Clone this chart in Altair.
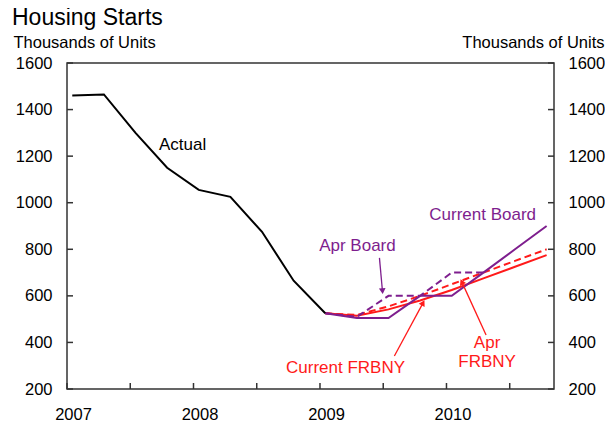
import altair as alt
import pandas as pd

# ---------------- data ----------------
actual_quarters = ["2007Q1", "2007Q2", "2007Q3", "2007Q4", "2008Q1",
                   "2008Q2", "2008Q3", "2008Q4", "2009Q1"]
actual_values = [1460, 1465, 1300, 1150, 1055, 1025, 875, 665, 525]

forecast_quarters = ["2009Q1", "2009Q2", "2009Q3", "2009Q4",
                     "2010Q1", "2010Q2", "2010Q3", "2010Q4"]
current_board = [525, 505, 505, 600, 600, 700, 800, 900]
apr_board = [525, 510, 600, 600, 700, 700]
current_frbny = [525, 515, 542, 580, 625, 675, 725, 775]
apr_frbny = [525, 518, 555, 600, 650, 700, 750, 800]

y_ticks = [200, 400, 600, 800, 1000, 1200, 1400, 1600]
x_ticks = [2007, 2007.5, 2008, 2008.5, 2009, 2009.5, 2010, 2010.5]

PURPLE = "#7E1E8E"
RED = "#FF1A1A"
BLACK = "#000000"
AXC = "#333333"

label_text = ["Actual", "Apr Board", "Current Board", "Current FRBNY", "Apr", "FRBNY"]
label_x = [2007.914, 2009.296, 2010.286, 2009.202, 2010.321, 2010.321]
label_y = [1248, 815, 947, 290, 398, 314]
label_color = [BLACK, PURPLE, PURPLE, RED, RED, RED]

arrow_x1 = [2009.47, 2009.588, 2010.313]
arrow_y1 = [763, 342, 432]
arrow_x2 = [2009.494, 2009.815, 2010.121]
arrow_y2 = [620, 570, 660]
arrow_angle = [175, 29, 335]
arrow_color = [PURPLE, RED, RED]

W, H = 487, 326
TICK = 6


def qpos(q):
    # quarterly values plotted at the middle of the quarter's first month
    year, qq = int(q[:4]), int(q[-1])
    return year + (qq - 1) / 4 + 1 / 24


series = [
    ("Current FRBNY", forecast_quarters, current_frbny, RED, []),
    ("Apr FRBNY", forecast_quarters, apr_frbny, RED, [7, 4]),
    ("Apr Board", forecast_quarters[:len(apr_board)], apr_board, PURPLE, [7, 4]),
    ("Current Board", forecast_quarters, current_board, PURPLE, []),
    ("Actual", actual_quarters, actual_values, BLACK, []),
]

FONT = "Liberation Sans"
x_scale = alt.Scale(domain=[2007, 2010.85], nice=False, zero=False)
x_enc = alt.X(
    "x:Q", scale=x_scale,
    axis=alt.Axis(
        values=x_ticks,
        labelExpr="datum.value % 1 === 0 ? '' + datum.value : ''",
        labelFlush=False, labelOverlap=False, labelOffset=6,
        labelPadding=17, labelFontSize=16.5, labelColor=BLACK, labelFont=FONT,
        ticks=False, domain=False, grid=False, title=None,
    ),
)
y_scale = alt.Scale(domain=[200, 1600], nice=False, zero=False)


def yaxis(orient):
    left = orient == "left"
    return alt.Axis(
        orient=orient, values=y_ticks, format="d", ticks=False,
        domain=False, grid=False,
        labelPadding=15 if left else 14, labelFontSize=16.5, labelColor=BLACK,
        labelFont=FONT,
        title="Thousands of Units", titleAngle=0,
        titleAlign="left" if left else "right",
        titleBaseline="alphabetic", titleX=-54 if left else 50, titleY=-16,
        titleFontSize=16.5, titleFontWeight="normal", titleColor=BLACK,
        titleFont=FONT,
    )


layers = []
for name, qs, vals, col, dash in series:
    d = pd.DataFrame({"x": [qpos(q) for q in qs], "y": vals})
    if name == "Actual":
        yax = yaxis("left")
    elif name == "Current Board":
        yax = yaxis("right")
    else:
        yax = None
    props = dict(color=col, strokeWidth=2)
    if dash:
        props["strokeDash"] = dash
    layers.append(
        alt.Chart(d).mark_line(**props).encode(
            x=x_enc, y=alt.Y("y:Q", scale=y_scale, axis=yax)
        )
    )

# inward-pointing tick marks (drawn through the scales)
yt = pd.DataFrame({"y": y_ticks})
layers.append(alt.Chart(yt).mark_rule(color=AXC, strokeWidth=1.5).encode(
    y=alt.Y("y:Q", scale=y_scale, axis=None), x=alt.value(0), x2=alt.value(TICK)))
layers.append(alt.Chart(yt).mark_rule(color=AXC, strokeWidth=1.5).encode(
    y=alt.Y("y:Q", scale=y_scale, axis=None), x=alt.value(W - TICK), x2=alt.value(W)))
xt = pd.DataFrame({"x": x_ticks})
layers.append(alt.Chart(xt).mark_rule(color=AXC, strokeWidth=1.5).encode(
    x=x_enc, y=alt.value(H - TICK), y2=alt.value(H)))

labels = pd.DataFrame({"x": label_x, "y": label_y, "t": label_text, "c": label_color})
layers.append(
    alt.Chart(labels).mark_text(font=FONT, fontSize=17, align="center", baseline="middle").encode(
        x=x_enc, y=alt.Y("y:Q", scale=y_scale, axis=None),
        text="t:N", color=alt.Color("c:N", scale=None),
    )
)

arrows = pd.DataFrame({"x": arrow_x1, "y": arrow_y1, "x2": arrow_x2, "y2": arrow_y2,
                       "c": arrow_color})
layers.append(
    alt.Chart(arrows).mark_rule(strokeWidth=1.3).encode(
        x=x_enc, x2="x2:Q", y=alt.Y("y:Q", scale=y_scale, axis=None), y2="y2:Q",
        color=alt.Color("c:N", scale=None),
    )
)
heads = pd.DataFrame({"x": arrow_x2, "y": arrow_y2, "a": arrow_angle, "c": arrow_color})
layers.append(
    alt.Chart(heads).mark_point(shape="triangle-up", filled=True, size=45, opacity=1).encode(
        x=x_enc,
        y=alt.Y("y:Q", scale=y_scale, axis=None),
        angle=alt.Angle("a:Q", scale=None),
        color=alt.Color("c:N", scale=None),
    )
)

chart = alt.layer(*layers).resolve_scale(y="independent").resolve_axis(y="independent").properties(
    width=W, height=H,
    autosize=alt.AutoSizeParams(type="none"),
    padding={"left": 59, "top": 55, "right": 51, "bottom": 34},
    background="white",
    title=alt.TitleParams("Housing Starts", anchor="start", frame="group", fontSize=23,
                          fontWeight="normal", font=FONT, color=BLACK, dx=-55),
).configure_view(stroke=AXC, strokeWidth=1.5)

chart.save("out.html", embed_options={"renderer": "svg", "actions": False})
